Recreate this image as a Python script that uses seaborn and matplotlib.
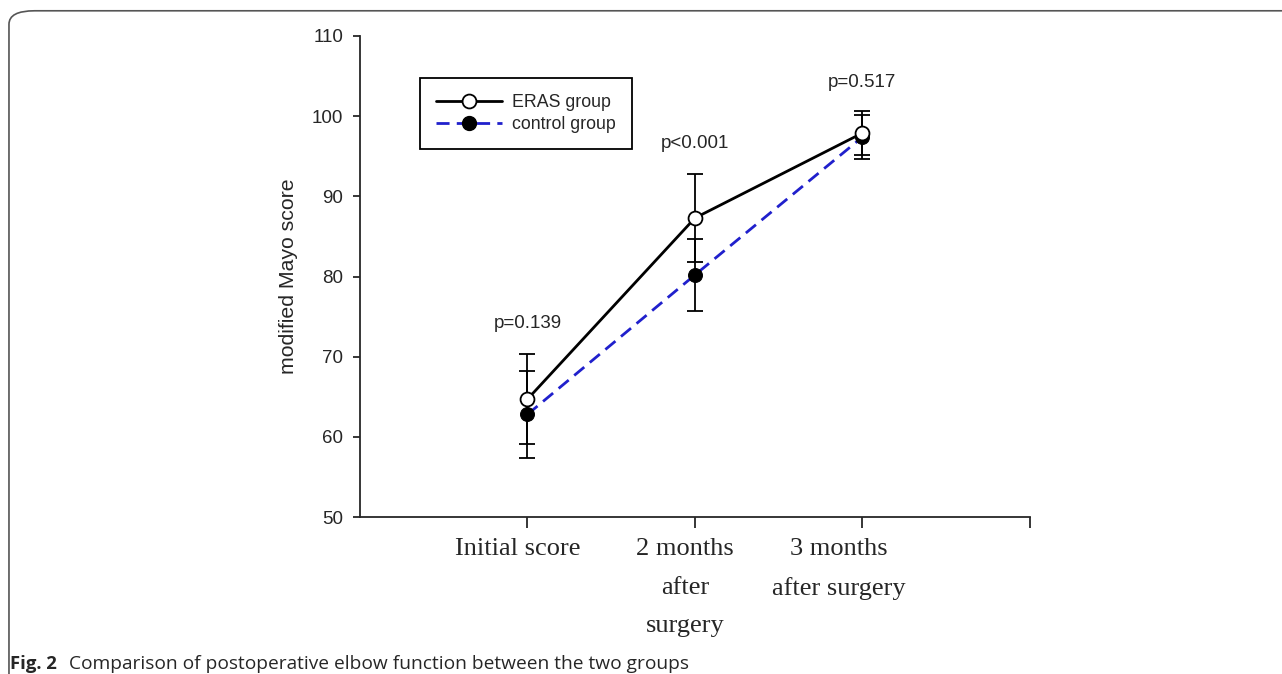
import numpy as np
import pandas as pd
import seaborn as sns
import matplotlib
matplotlib.use('Agg')
import matplotlib.pyplot as plt
from matplotlib.lines import Line2D
from matplotlib.patches import FancyBboxPatch
from matplotlib.transforms import ScaledTranslation

sns.set_style('ticks')
plt.rcParams['font.family'] = ['Liberation Sans', 'DejaVu Sans']

# values
timepoints = [1, 2, 3]
tick_labels = ["Initial score", "2 months\nafter\nsurgery", "3 months\nafter surgery", ""]
eras_mean = [64.7, 87.3, 97.9]
eras_sd = [5.6, 5.5, 2.8]
control_mean = [62.8, 80.2, 97.4]
control_sd = [5.4, 4.5, 2.8]
p_labels = ["p=0.139", "p<0.001", "p=0.517"]
p_heights = [74.2, 96.6, 104.2]

df = pd.DataFrame({
    'time': timepoints * 2,
    'score': eras_mean + control_mean,
    'group': ['ERAS group'] * 3 + ['control group'] * 3,
})

fig = plt.figure(figsize=(12.82, 6.74), dpi=100)
ax = fig.add_axes([0.2808, 0.2329, 0.5226, 0.7137])

blue = '#2020cc'
dash = [4.7, 2.6]
ax.errorbar(timepoints, control_mean, yerr=control_sd, fmt='none', ecolor='black',
            elinewidth=1.3, capsize=6, capthick=1.3, zorder=2)
ax.errorbar(timepoints, eras_mean, yerr=eras_sd, fmt='none', ecolor='black',
            elinewidth=1.3, capsize=6, capthick=1.3, zorder=2)

sns.lineplot(data=df[df.group == 'control group'], x='time', y='score', ax=ax,
             color=blue, lw=2, marker='o', markersize=10, markerfacecolor='black',
             markeredgecolor='black', zorder=3, legend=False)
ax.lines[-1].set_dashes(dash)
sns.lineplot(data=df[df.group == 'ERAS group'], x='time', y='score', ax=ax,
             color='black', lw=2, marker='o', markersize=10, markerfacecolor='white',
             markeredgecolor='black', markeredgewidth=1.3, zorder=4, legend=False)

for x, txt, h in zip(timepoints, p_labels, p_heights):
    ax.text(x, h, txt, ha='center', va='center', fontsize=13.5)

ax.set_xlim(0, 4)
ax.set_ylim(50, 110)
ax.set_yticks(range(50, 111, 10))
ax.tick_params(axis='y', labelsize=13.5, length=5, width=1.3, direction='out', pad=7)
ax.set_xticks([1, 2, 3, 4])
ax.set_xticklabels(tick_labels, fontsize=19, family='Liberation Serif', linespacing=1.98)
ax.tick_params(axis='x', length=8, width=1.3, direction='out', pad=7)
shifts = [-10, -10, -24, 0]
for lab, s in zip(ax.get_xticklabels(), shifts):
    lab.set_transform(lab.get_transform() + ScaledTranslation(s / 100, 0, fig.dpi_scale_trans))
ax.set_xlabel('')
ax.set_ylabel('modified Mayo score', fontsize=15.3, labelpad=10)
sns.despine(ax=ax)
for sp in ['left', 'bottom']:
    ax.spines[sp].set_linewidth(1.3)

handles = [
    Line2D([], [], color='black', lw=2, marker='o', markersize=10,
           markerfacecolor='white', markeredgecolor='black', markeredgewidth=1.3),
    Line2D([], [], color=blue, lw=2, dashes=dash, marker='o', markersize=10,
           markerfacecolor='black', markeredgecolor='black'),
]
leg = ax.legend(handles, ['ERAS group', 'control group'], loc='upper left',
                bbox_to_anchor=(0.0896, 0.9127), borderaxespad=0, fontsize=12.8,
                handlelength=3.7, frameon=True, fancybox=False, edgecolor='black',
                framealpha=1, borderpad=0.9, labelspacing=0.3, handletextpad=0.6)
leg.get_frame().set_linewidth(1.3)

frame = FancyBboxPatch((0.007, -0.2), 1.2, 1.184, boxstyle='round,pad=0,rounding_size=0.02',
                       transform=fig.transFigure, fill=False, edgecolor='#555555', lw=1.2,
                       clip_on=False)
fig.patches.append(frame)

fig.text(0.008, 0.008, 'Fig. 2', fontsize=13.3, fontweight='bold', family='Open Sans', va='baseline')
fig.text(0.054, 0.008, 'Comparison of postoperative elbow function between the two groups',
         fontsize=13.8, family='Open Sans', va='baseline')

fig.savefig('out.png', dpi=100)
